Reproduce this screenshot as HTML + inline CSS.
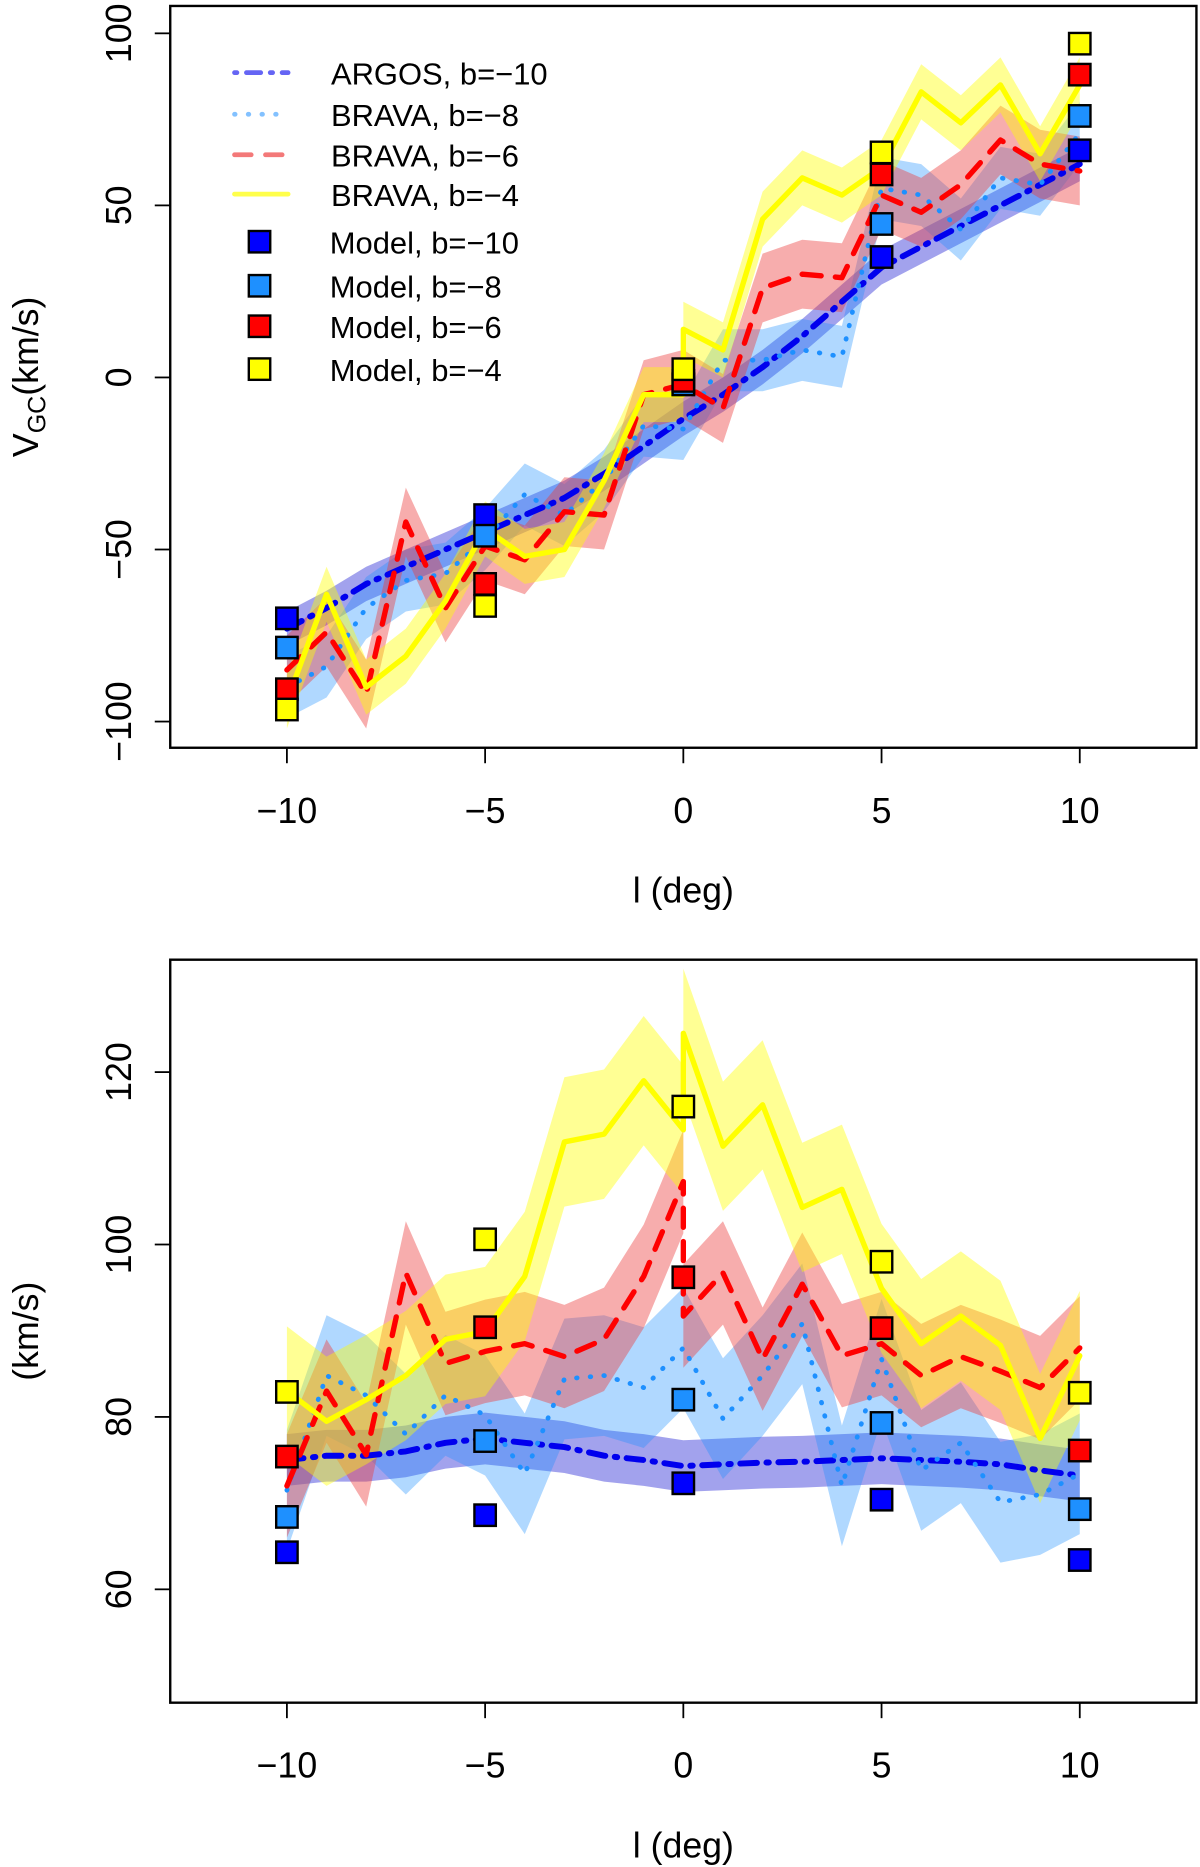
<!DOCTYPE html>
<html><head><meta charset="utf-8"><style>
html,body{margin:0;padding:0;background:#fff;}
svg{display:block;}
text{font-family:"Liberation Sans",sans-serif;fill:#000;}
</style></head><body>
<svg id="fig" width="1200" height="1867" viewBox="0 0 1008 1568" preserveAspectRatio="none" xmlns="http://www.w3.org/2000/svg">
<g id="top"></g>
<g id="bot"></g>
</svg>
<script>
// ---------- data ----------
const lonInt = [-10,-9,-8,-7,-6,-5,-4,-3,-2,-1,0,1,2,3,4,5,6,7,8,9,10];
const lonSpike = [-10,-9,-8,-7,-6,-5,-4,-3,-2,-1,0,0,1,2,3,4,5,6,7,8,9,10];
const modelLon = [-10,-5,0,5,10];
const xTicks = [-10,-5,0,5,10];
const topYTicks = [-100,-50,0,50,100];
const botYTicks = [60,80,100,120];

// top panel: mean velocity
const topArgos = [-73,-67,-60,-55,-50,-45,-40,-35,-28,-20,-12,-5,3,12,22,32,38,44,50,56,62];
const topArgosErr = 5;
const topB8 = [-90,-84,-67,-59,-57,-47,-34,-40,-30,-14,-15,5,5,8,6,55,53,43,58,56,71];
const topB8Err = 9;
const topB6 = [-85,-74,-92,-42,-67,-49,-53,-39,-40,-5,-2,-9,26,30,29,53,48,56,69,62,60];
const topB6Err = 10;
const topB4 = [-94,-63,-90,-81,-65,-44,-52,-50,-30,-5,-5,14,8,46,58,53,61,83,74,85,65,85];
const topB4Err = 8;
const topModel10 = [-70,-40,-2,35,66];
const topModel8 = [-78.5,-46,-2,44.6,76];
const topModel6 = [-90.6,-60,-1,59,88];
const topModel4 = [-96.5,-66.4,2.4,65.4,97];

// bottom panel: dispersion
const botArgos = [75,75.5,75.5,76,77,77.5,77,76.5,75.5,75,74.3,74.5,74.7,74.8,75,75.2,75,74.8,74.5,73.8,73.2];
const botArgosErr = 3;
const botB8 = [71.5,84.8,82.5,78,82.5,80.2,73.4,84.4,84.8,83.4,88,79.8,84.8,90.8,72,86.7,73.8,77,70.1,71,73.4];
const botB8Err = 7;
const botB6 = [72,83,75.6,96.7,86.2,87.6,88.5,87,89,96.3,107.3,91.7,96.7,86.7,95.4,87.1,88.5,84.8,87,85.3,83.4,88];
const botB6Err = 6;
const botB4 = [83,79.5,82,84.8,89,89.9,96.3,111.9,112.8,119,113.3,124.5,111.4,116.2,104.3,106.4,94.9,88.5,91.7,88.3,77.5,87.1];
const botB4Err = 7.5;
const botModel10 = [64.3,68.6,72.3,70.4,63.4];
const botModel8 = [68.4,77.2,82,79.3,69.3];
const botModel6 = [75.4,90.4,96.2,90.3,76.1];
const botModel4 = [82.9,100.6,116,98,82.8];

// ---------- drawing ----------
const NS='http://www.w3.org/2000/svg';
function mk(tag,attrs,parent){const e=document.createElementNS(NS,tag);for(const k in attrs)e.setAttribute(k,attrs[k]);parent.appendChild(e);return e;}
const box={l:143,r:1005};
function xs(v){return 574+v*33.3;}

function panel(g,top,bottom,ymap,yTicks,yLabel,sub){
  const ax=mk('rect',{x:box.l,y:top,width:box.r-box.l,height:bottom-top,fill:'none',stroke:'#000','stroke-width':2},g);
  
  
  xTicks.forEach(t=>{
    const ln=mk('line',{x1:xs(t),x2:xs(t),y1:bottom,y2:bottom+13,stroke:'#000','stroke-width':1.5},g);
    
    
    const tx=mk('text',{x:xs(t),y:bottom+63,'font-size':30,'text-anchor':'middle'},g);
    tx.textContent=String(t).replace('-','\u2212');
    
    
  });
  yTicks.forEach(t=>{
    const y=ymap(t);
    const ln=mk('line',{x1:box.l-13,x2:box.l,y1:y,y2:y,stroke:'#000','stroke-width':1.5},g);
    
    
    const tx=mk('text',{x:0,y:0,'font-size':30,'text-anchor':'middle',transform:`translate(110,${y}) rotate(-90)`},g);
    tx.textContent=String(t).replace('-','\u2212');
    
    
  });
  const xl=mk('text',{x:574,y:bottom+130,'font-size':30,'text-anchor':'middle'},g);
  xl.textContent='l (deg)';
  
  
  const yc=(top+bottom)/2;
  const yl=mk('text',{x:0,y:0,'font-size':30,'text-anchor':'middle',transform:`translate(32,${yc}) rotate(-90)`},g);
  
  
  if(sub){yl.innerHTML='V<tspan font-size="21" dy="6">GC</tspan><tspan dy="-6">(km/s)</tspan>';}
  else yl.textContent='(km/s)';
}

function band(g,lons,vals,err,ymap,fill,name){
  const up=lons.map((l,i)=>`${xs(l)},${ymap(vals[i]+err)}`);
  const dn=lons.map((l,i)=>`${xs(l)},${ymap(vals[i]-err)}`).reverse();
  const p=mk('polygon',{points:up.concat(dn).join(' '),fill:fill,stroke:'none'},g);
  
  
}
function line(g,lons,vals,ymap,stroke,w,dash,name){
  const pts=lons.map((l,i)=>`${xs(l)},${ymap(vals[i])}`).join(' ');
  const a={points:pts,fill:'none',stroke:stroke,'stroke-width':w,'stroke-linejoin':'round','stroke-linecap':'round'};
  if(dash)a['stroke-dasharray']=dash;
  const p=mk('polyline',a,g);
  
  
}
function squares(g,vals,ymap,fill,name){
  modelLon.forEach((l,i)=>{
    const r=mk('rect',{x:xs(l)-9,y:ymap(vals[i])-9,width:18,height:18,fill:fill,stroke:'#000','stroke-width':2},g);
    
    
  });
}

const C={argosBand:'rgba(70,70,220,0.5)',b8Band:'rgba(30,144,255,0.35)',b6Band:'rgba(235,60,60,0.42)',b4Band:'rgba(255,255,0,0.42)',
  argos:'#0000ee',b8:'#1e90ff',b6:'#ff0000',b4:'#ffff00'};

function series(g,ymap,d){
  band(g,lonInt,d.a,d.ae,ymap,C.argosBand,'argos-band');
  band(g,lonInt,d.b8,d.b8e,ymap,C.b8Band,'brava-b8-band');
  band(g,d.l6,d.b6,d.b6e,ymap,C.b6Band,'brava-b6-band');
  band(g,d.l4,d.b4,d.b4e,ymap,C.b4Band,'brava-b4-band');
  line(g,lonInt,d.a,ymap,C.argos,5,'14 8 2 8','argos-line');
  line(g,lonInt,d.b8,ymap,C.b8,4,'0.5 11','brava-b8-line');
  line(g,d.l6,d.b6,ymap,C.b6,4.5,'16 12','brava-b6-line');
  line(g,d.l4,d.b4,ymap,C.b4,4.5,null,'brava-b4-line');
  squares(g,d.m10,ymap,'#0000ff','model-b10-marker');
  squares(g,d.m8,ymap,'#1e90ff','model-b8-marker');
  squares(g,d.m6,ymap,'#ff0000','model-b6-marker');
  squares(g,d.m4,ymap,'#ffff00','model-b4-marker');
}

// top panel
const gT=document.getElementById('top');
const yT=v=>317-v*2.89;
series(gT,yT,{a:topArgos,ae:topArgosErr,b8:topB8,b8e:topB8Err,l6:lonInt,b6:topB6,b6e:topB6Err,l4:lonSpike,b4:topB4,b4e:topB4Err,
  m10:topModel10,m8:topModel8,m6:topModel6,m4:topModel4});
panel(gT,5,628,yT,topYTicks,'',true);

// legend
const lg=mk('g',{},gT);


const legLines=[['ARGOS, b=\u221210',C.argos,'2 8 12 8',61,0.6],['BRAVA, b=\u22128',C.b8,'0.5 11',96,0.55],['BRAVA, b=\u22126','#ee3333','14 12',130,0.65],['BRAVA, b=\u22124',C.b4,null,163,0.7]];
legLines.forEach(e=>{
  const a={x1:197,x2:242,y1:e[3],y2:e[3],stroke:e[1],'stroke-width':4,'stroke-linecap':'round',opacity:e[4]};
  if(e[2])a['stroke-dasharray']=e[2];
  const l=mk('line',a,lg);
  
  
  const t=mk('text',{x:278,y:e[3]+10,'font-size':26},lg);
  t.textContent=e[0];
  
  
});
const legSq=[['Model, b=\u221210','#0000ff',203],['Model, b=\u22128','#1e90ff',240],['Model, b=\u22126','#ff0000',274],['Model, b=\u22124','#ffff00',310]];
legSq.forEach(e=>{
  const r=mk('rect',{x:209,y:e[2]-9,width:18,height:18,fill:e[1],stroke:'#000','stroke-width':2},lg);
  
  
  const t=mk('text',{x:277,y:e[2]+10,'font-size':26},lg);
  t.textContent=e[0];
  
  
});

// bottom panel
const gB=document.getElementById('bot');
const yB=v=>1190-(v-80)*7.24;
series(gB,yB,{a:botArgos,ae:botArgosErr,b8:botB8,b8e:botB8Err,l6:lonSpike,b6:botB6,b6e:botB6Err,l4:lonSpike,b4:botB4,b4e:botB4Err,
  m10:botModel10,m8:botModel8,m6:botModel6,m4:botModel4});
panel(gB,806,1430,yB,botYTicks,'',false);
</script>
</body></html>
